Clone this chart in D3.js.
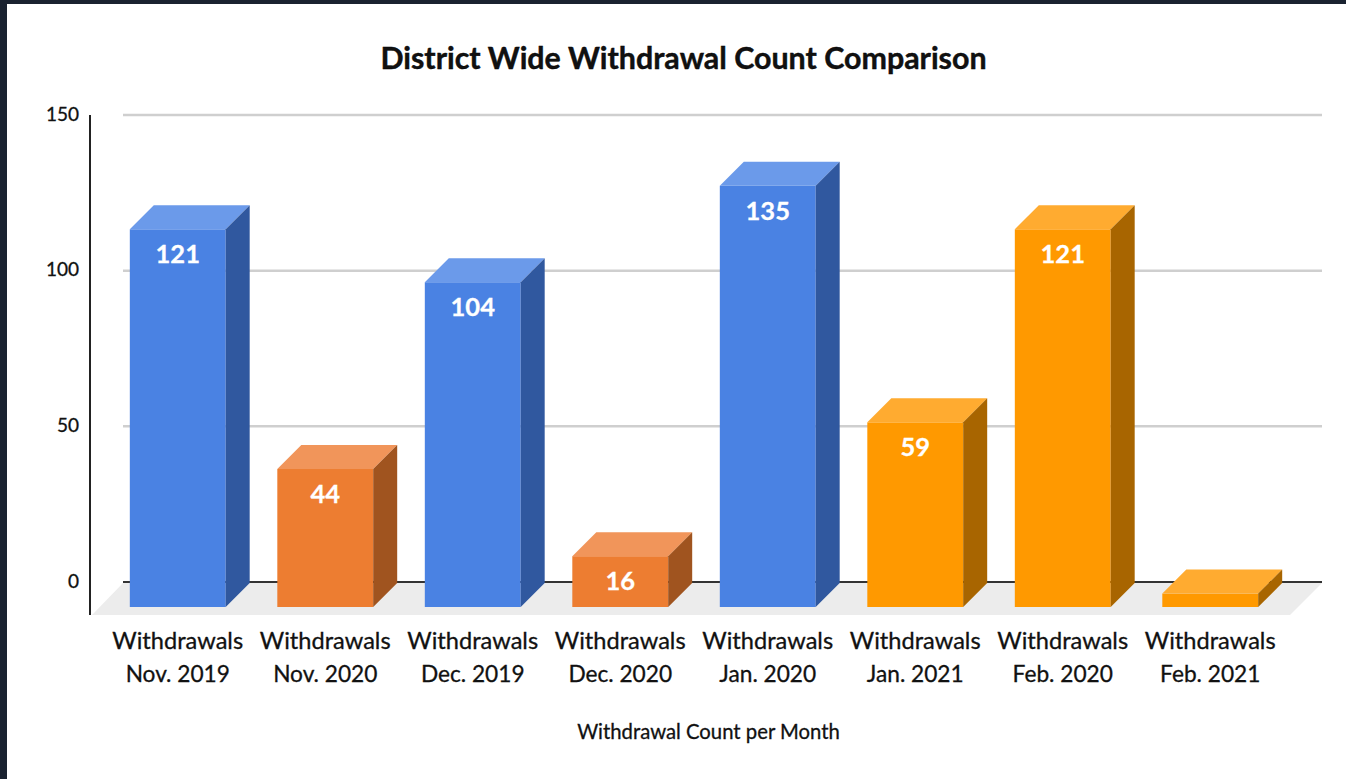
<!DOCTYPE html>
<html lang="en">
<head>
  <meta charset="utf-8" />
  <title>District Wide Withdrawal Count Comparison</title>
  <script src="https://cdn.jsdelivr.net/npm/d3@7"></script>
  <style>
    html, body { margin: 0; padding: 0; background: #1a2230; overflow: hidden; }
    svg { display: block; }
    text { font-family: Lato, "Open Sans", sans-serif; fill: #111; }
    .y-axis text { font-size: 19px; stroke: #111; stroke-width: 0.3px; }
    .x-axis text { font-size: 23.6px; stroke: #111; stroke-width: 0.3px; }
    .x-axis .month { font-size: 22.7px; }
    .value { font-size: 25.5px; font-weight: 700; fill: #fff; text-anchor: middle; stroke: #fff; stroke-width: 0.3px; }
    .title { font-size: 30.4px; font-weight: 700; stroke: #000; stroke-width: 0.4px; }
    .x-title { font-size: 20.3px; stroke: #111; stroke-width: 0.3px; }
  </style>
</head>
<body>
<script>
// chart values
var categories = ["Withdrawals Nov. 2019", "Withdrawals Nov. 2020", "Withdrawals Dec. 2019", "Withdrawals Dec. 2020",
                  "Withdrawals Jan. 2020", "Withdrawals Jan. 2021", "Withdrawals Feb. 2020", "Withdrawals Feb. 2021"];
var counts = [121, 44, 104, 16, 135, 59, 121, 4];
var showLabel = [true, true, true, true, true, true, true, false];
var colorGroups = ["blue", "orange", "blue", "orange", "blue", "amber", "amber", "amber"];
var yTicks = [0, 50, 100, 150];

var w = 1346;
var h = 779;
var depth = {x: 24, y: 24};
var plot = {left: 123, right: 1322, top: 115, bottom: 582};

var xScale = d3.scaleBand()
               .domain(categories)
               .range([104, 1284])
               .paddingInner(0.35)
               .paddingOuter(0.175);
var yScale = d3.scaleLinear()
               .domain([0, 150])
               .range([plot.bottom, plot.top]);
var frontColor = d3.scaleOrdinal().domain(["blue", "orange", "amber"]).range(["#4a82e3", "#ed7d31", "#ff9900"]);
var topColor = d3.scaleOrdinal().domain(["blue", "orange", "amber"]).range(["#6b9aea", "#f1955a", "#ffab30"]);
var sideColor = d3.scaleOrdinal().domain(["blue", "orange", "amber"]).range(["#30589f", "#a0541f", "#a86500"]);

var svg = d3.select("body").append("svg").attr("width", w).attr("height", h);

svg.append("rect").attr("x", 7).attr("y", 4).attr("width", w - 7).attr("height", h - 4).attr("fill", "#fff");

// gridlines
svg.selectAll(".grid")
   .data(yTicks.filter(function(d) { return d > 0; }))
   .enter()
   .append("line")
   .attr("x1", plot.left)
   .attr("x2", plot.right)
   .attr("y1", function(d) { return yScale(d); })
   .attr("y2", function(d) { return yScale(d); })
   .attr("stroke", "#cfcfcf")
   .attr("stroke-width", 2.5);

// floor
var floorPts = [[plot.left, plot.bottom + 1], [plot.right, plot.bottom + 1],
                [plot.right - 32, plot.bottom + 33], [plot.left - 31, plot.bottom + 33]];
svg.append("polygon").attr("points", floorPts.join(" ")).attr("fill", "#ececec");

// zero line and vertical axis line
svg.append("line")
   .attr("x1", plot.left).attr("x2", plot.right)
   .attr("y1", yScale(0)).attr("y2", yScale(0))
   .attr("stroke", "#333").attr("stroke-width", 2);
svg.append("line")
   .attr("x1", 90).attr("x2", 90)
   .attr("y1", plot.top).attr("y2", plot.bottom + 33)
   .attr("stroke", "#222").attr("stroke-width", 2);

// bars
var bars = svg.selectAll(".bar")
              .data(counts)
              .enter()
              .append("g")
              .attr("class", "bar");

function frontX(i) { return xScale(categories[i]); }
function frontY(d) { return yScale(d) + depth.y; }
var frontBase = yScale(0) + 25;

bars.append("rect")
    .attr("x", function(d, i) { return frontX(i); })
    .attr("y", frontY)
    .attr("width", xScale.bandwidth())
    .attr("height", function(d) { return frontBase - frontY(d); })
    .attr("fill", function(d, i) { return frontColor(colorGroups[i]); });
bars.append("polygon")
    .attr("points", function(d, i) {
      var l = frontX(i), r = l + xScale.bandwidth(), t = frontY(d);
      return [[l, t], [r, t], [r + depth.x, t - depth.y], [l + depth.x, t - depth.y]].join(" ");
    })
    .attr("fill", function(d, i) { return topColor(colorGroups[i]); });
bars.append("polygon")
    .attr("points", function(d, i) {
      var r = frontX(i) + xScale.bandwidth(), t = frontY(d);
      return [[r, t], [r + depth.x, t - depth.y], [r + depth.x, frontBase - depth.y], [r, frontBase]].join(" ");
    })
    .attr("fill", function(d, i) { return sideColor(colorGroups[i]); });
bars.append("text")
    .attr("class", "value")
    .attr("x", function(d, i) { return frontX(i) + xScale.bandwidth() / 2; })
    .attr("y", function(d) { return frontY(d) + 34; })
    .text(function(d, i) { return showLabel[i] ? d : ""; });

// axes
var yAxis = d3.axisLeft(yScale).tickValues(yTicks).tickSize(0).tickPadding(11);
svg.append("g")
   .attr("class", "y-axis")
   .attr("transform", "translate(90,-1)")
   .call(yAxis)
   .call(function(g) { g.select(".domain").remove(); });

var xAxis = d3.axisBottom(xScale).tickSize(0);
svg.append("g")
   .attr("class", "x-axis")
   .attr("transform", "translate(0,623)")
   .call(xAxis)
   .call(function(g) {
     g.select(".domain").remove();
     g.selectAll("text").each(function(d) {
       var t = d3.select(this).text("");
       var cut = d.indexOf(" ");
       t.append("tspan").attr("x", 0).attr("y", 26).attr("dy", 0).text(d.slice(0, cut));
       t.append("tspan").attr("class", "month").attr("x", 0).attr("y", 59).attr("dy", 0).text(d.slice(cut + 1));
     });
   });

// titles
svg.append("text")
   .attr("class", "title")
   .attr("x", 683.5).attr("y", 69)
   .attr("text-anchor", "middle")
   .text("District Wide Withdrawal Count Comparison");
svg.append("text")
   .attr("class", "x-title")
   .attr("x", 708.5).attr("y", 739)
   .attr("text-anchor", "middle")
   .text("Withdrawal Count per Month");
</script>
</body>
</html>
